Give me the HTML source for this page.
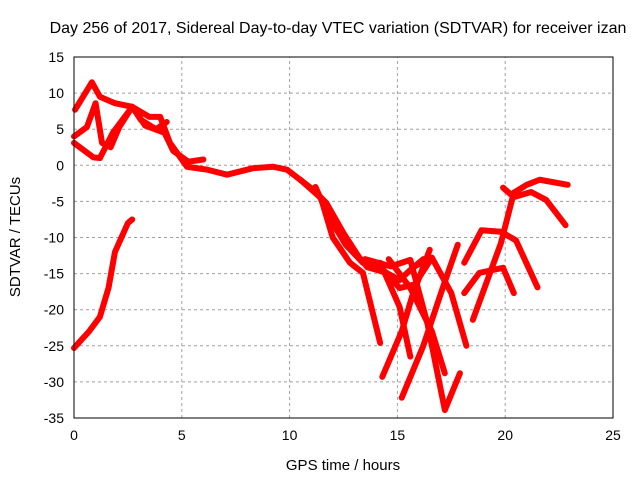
<!DOCTYPE html>
<html><head><meta charset="utf-8"><style>
body{margin:0;background:#fff;}
svg text{font-family:"Liberation Sans",sans-serif;font-size:14px;fill:#000;}
</style></head><body>
<svg id="chart" width="640" height="480">
<text x="338" y="33" text-anchor="middle" style="font-size:16px">Day 256 of 2017, Sidereal Day-to-day VTEC variation (SDTVAR) for receiver izan</text>
<text x="343" y="470" text-anchor="middle" style="font-size:15px">GPS time / hours</text>
<text transform="translate(20,237) rotate(-90)" text-anchor="middle" style="font-size:15px">SDTVAR / TECUs</text>
<g id="grid"></g><g id="series"></g><g id="axes"></g>
</svg>
<script>
const xTicks=[0,5,10,15,20,25];
const yTicks=[15,10,5,0,-5,-10,-15,-20,-25,-30,-35];
const track1=[[0,-25.3],[0.7,-23],[1.2,-21],[1.6,-17],[1.9,-12],[2.2,-10],[2.5,-8],[2.7,-7.5]];
const track2=[[0.05,7.7],[0.83,11.5],[1.2,9.5],[1.9,8.6],[2.7,8.1],[3.5,6.7],[4.0,6.7],[4.45,3.1],[5.24,-0.2],[6.17,-0.6],[7.1,-1.3],[8.3,-0.4],[9.23,-0.2],[9.88,-0.6],[11.1,-3.4],[11.7,-5.2],[12.5,-9.4],[13.3,-13.1]];
const track3=[[0,4],[0.6,5.3],[1,8.6],[1.3,3.1],[1.7,2.5],[2.1,5.3],[2.7,8.1],[3.3,5.5],[4.2,4.5],[4.6,2],[5.3,0.5],[6,0.8]];
const track4=[[0,3.1],[0.9,1.1],[1.2,1.0],[1.8,4.5],[2.7,8.1],[3.1,6.3],[3.8,5],[4.3,6]];
const track5=[[10.5,-2],[11.4,-4.4],[12.7,-10.8],[13.6,-14.1],[14.5,-14.9],[15.1,-15.9],[15.6,-14.5],[16.2,-13]];
const track6=[[11.2,-3],[11.8,-7],[12.6,-11],[13.4,-13.5],[14.2,-14],[15.1,-17],[15.8,-16.5],[16.6,-12.8]];
const track7=[[11.5,-5],[12,-10],[12.8,-13.5],[13.4,-14.9],[14.2,-24.6]];
const track8=[[14.3,-29.3],[15.2,-23],[15.7,-18],[16.5,-11.7]];
const track9=[[15.2,-32.2],[16.2,-25],[17.1,-17],[17.8,-11]];
const track10=[[13.5,-13],[14.7,-14],[15.6,-13.1],[16.4,-22],[17.2,-33.9],[17.9,-28.8]];
const track11=[[14.2,-13.5],[15.1,-19.6],[15.6,-26.5]];
const track12=[[14.6,-13],[15.6,-17],[16.6,-23],[17.2,-28.8]];
const track13=[[15.8,-14],[16.6,-12.8],[17.5,-17.7],[18.2,-25]];
const track14=[[18.1,-13.5],[18.9,-9],[19.8,-9.2],[20.5,-10.4],[21.5,-16.9]];
const track15=[[18.1,-17.7],[18.8,-14.9],[19.9,-14.2],[20.4,-17.7]];
const track16=[[18.5,-21.4],[19.8,-10.8],[20.4,-3.8],[21.0,-2.7],[21.6,-2.0],[22.9,-2.7]];
const track17=[[19.9,-3.1],[20.4,-4.4],[21.2,-3.7],[21.9,-4.8],[22.8,-8.3]];
const tracks=[track1,track2,track3,track4,track5,track6,track7,track8,track9,track10,track11,track12,track13,track14,track15,track16,track17];
const X0=74,X1=613,Y0=418,Y1=57;
function xs(v){return X0+(v-0)/25*(X1-X0);}
function ys(v){return Y0-(v+35)/50*(Y0-Y1);}
const NS="http://www.w3.org/2000/svg";
const grid=document.getElementById('grid'),axes=document.getElementById('axes'),ser=document.getElementById('series');
function mk(tag,attrs,parent){const e=document.createElementNS(NS,tag);for(const k in attrs)e.setAttribute(k,attrs[k]);parent.appendChild(e);return e;}
xTicks.forEach(t=>{
 const l=mk('line',{x1:xs(t),x2:xs(t),y1:Y0,y2:Y1,stroke:'#a0a0a0','stroke-dasharray':'3,3'},grid);
 
 
 const tx=mk('text',{x:xs(t),y:Y0+22,'text-anchor':'middle'},axes);tx.textContent=t;
 
 
});
yTicks.forEach(t=>{
 const l=mk('line',{x1:X0,x2:X1,y1:ys(t),y2:ys(t),stroke:'#a0a0a0','stroke-dasharray':'3,3'},grid);
 
 
 const tx=mk('text',{x:X0-10,y:ys(t)+5,'text-anchor':'end'},axes);tx.textContent=t;
 
 
});
const fr=mk('rect',{x:X0,y:Y1,width:X1-X0,height:Y0-Y1,fill:'none',stroke:'#000'},axes);


tracks.forEach(tr=>{
 const p=mk('polyline',{points:tr.map(d=>xs(d[0])+','+ys(d[1])).join(' '),fill:'none',stroke:'#ff0000','stroke-width':6,'stroke-linejoin':'round','stroke-linecap':'round'},ser);
 
 
});
</script>
</body></html>
